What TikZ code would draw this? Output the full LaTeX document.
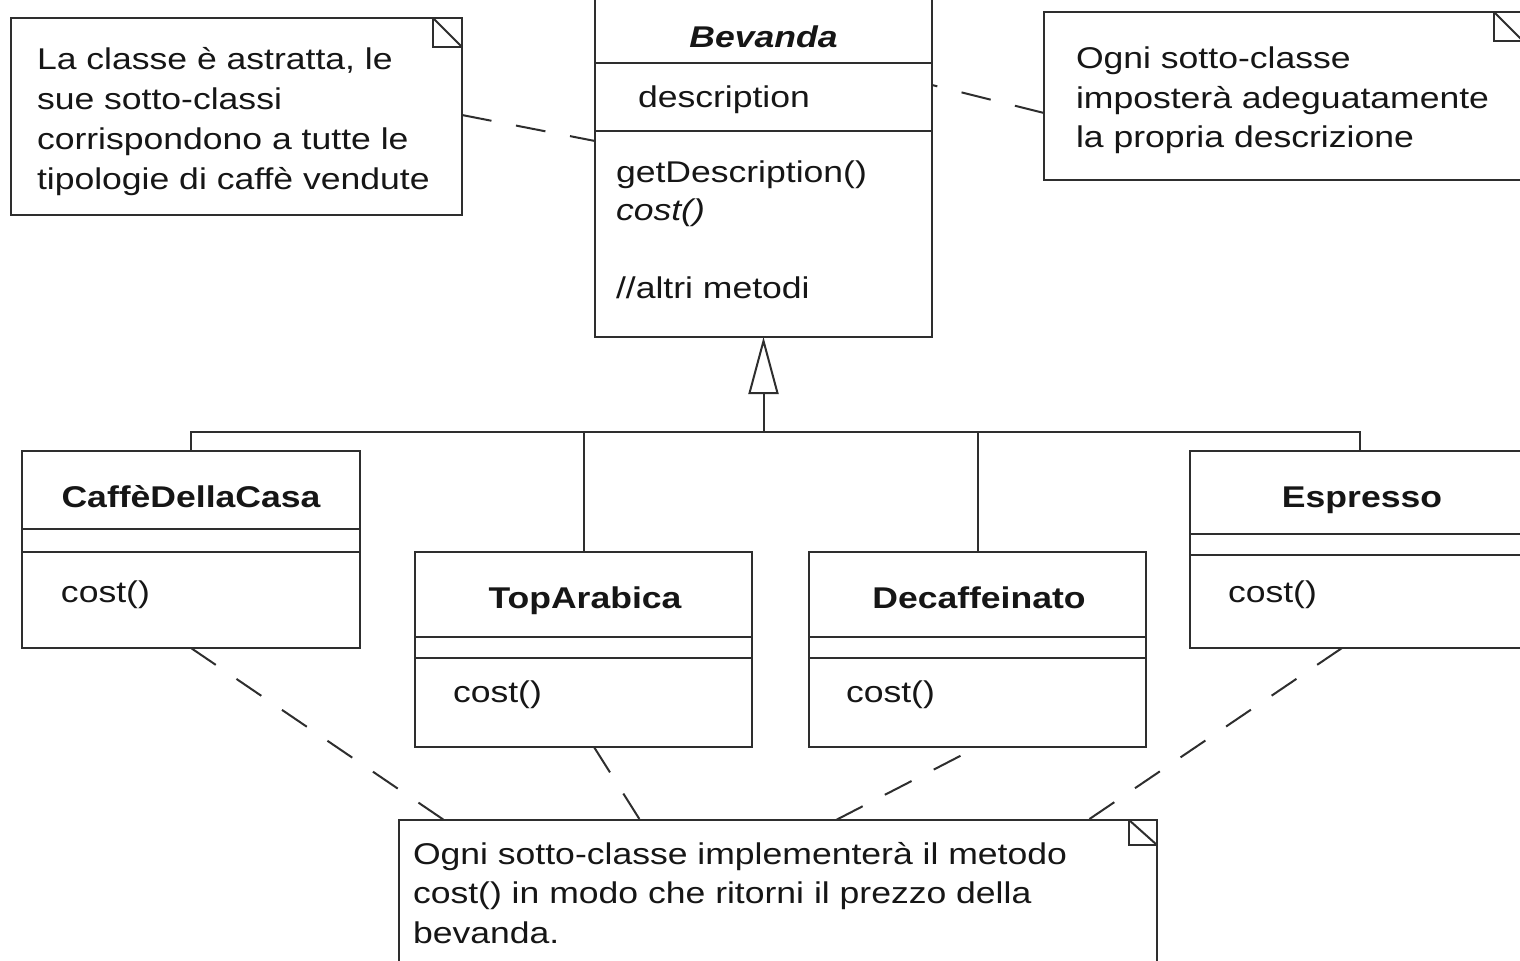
\documentclass[tikz,border=0pt]{standalone}
\usepackage{fontspec}
\setmainfont{Liberation Sans}[FakeStretch=1.185]
\usetikzlibrary{arrows.meta,fit,calc}
\definecolor{ink}{HTML}{161616}
\definecolor{rule}{HTML}{2E2E2E}
% folded corner of a UML note: #1 node, #2 width, #3 height
\newcommand\foldcorner[3]{%
  \draw[rule line] ($(#1.north east)+(-#2,0)$) |- ($(#1.north east)+(0,#3)$);
  \draw[rule line] ($(#1.north east)+(-#2,0)$) -- ($(#1.north east)+(0,#3)$);
}
\begin{document}
\begin{tikzpicture}[x=0.5pt,y=-0.5pt,
  every node/.style={inner sep=0pt, outer sep=0pt},
  box/.style={draw=rule, line width=1pt, fill=white, inner sep=0pt, outer sep=0pt},
  rule line/.style={draw=rule, line width=1pt},
  txt/.style={font=\fontsize{15}{20}\selectfont, text=ink, anchor=base west},
  cname/.style={font=\fontsize{15}{20}\selectfont\bfseries, text=ink, anchor=base},
  noteline/.style={draw=rule, line width=1pt, dash pattern=on 15pt off 12.5pt},
]
\useasboundingbox (0,0) rectangle (1520,960);
\clip (0,0) rectangle (1520,960);

% ---------- abstract class Bevanda ----------
\node[box, fit={(595,-4) (932,337)}] (bevanda) {};
\draw[rule line] (bevanda.west |- 0,63) -- (bevanda.east |- 0,63);
\draw[rule line] (bevanda.west |- 0,131) -- (bevanda.east |- 0,131);
\node[cname, font=\fontsize{15}{20}\selectfont\bfseries\itshape] (bev-name) at (763.5,47) {Bevanda};
\node[txt] (bev-attr) at (638,107) {description};
\node[txt] (bev-op1) at (616,182) {getDescription()};
\node[txt, font=\fontsize{15}{20}\selectfont\itshape] (bev-op2) at (616,220) {cost()};
\node[txt] (bev-op3) at (616,298) {//altri metodi};

% ---------- concrete subclasses ----------
\node[box, fit={(22,451) (360,648)}] (caffe) {};
\draw[rule line] (caffe.west |- 0,529) -- (caffe.east |- 0,529);
\draw[rule line] (caffe.west |- 0,552) -- (caffe.east |- 0,552);
\node[cname] (caffe-name) at (191,507) {CaffèDellaCasa};
\node[txt] (caffe-op) at (61,602) {cost()};

\node[box, fit={(415,552) (752,747)}] (toparabica) {};
\draw[rule line] (toparabica.west |- 0,637) -- (toparabica.east |- 0,637);
\draw[rule line] (toparabica.west |- 0,658) -- (toparabica.east |- 0,658);
\node[cname] (top-name) at (585,608) {TopArabica};
\node[txt] (top-op) at (453,702) {cost()};

\node[box, fit={(809,552) (1146,747)}] (decaf) {};
\draw[rule line] (decaf.west |- 0,637) -- (decaf.east |- 0,637);
\draw[rule line] (decaf.west |- 0,658) -- (decaf.east |- 0,658);
\node[cname] (decaf-name) at (979,608) {Decaffeinato};
\node[txt] (decaf-op) at (846,702) {cost()};

\node[box, fit={(1190,451) (1530,648)}] (espresso) {};
\draw[rule line] (espresso.west |- 0,534) -- (espresso.east |- 0,534);
\draw[rule line] (espresso.west |- 0,555) -- (espresso.east |- 0,555);
\node[cname] (espresso-name) at (1362,507) {Espresso};
\node[txt] (espresso-op) at (1228,602) {cost()};

% ---------- generalization tree ----------
\coordinate (junction) at (bevanda.south |- 0,432);
\draw[rule line, -{Triangle[open, length=28.5pt, width=15pt]}] (junction) -- (bevanda.south);
\draw[rule line] (caffe.north) |- (junction) -| (espresso.north);
\draw[rule line] (toparabica.north) -- (toparabica.north |- junction);
\draw[rule line] (decaf.north) -- (decaf.north |- junction);

% ---------- notes ----------
\node[box, fit={(11,18) (462,215)}] (nl) {};
\foldcorner{nl}{29}{29}
\node[txt] (nl-1) at (37,69) {La classe è astratta, le};
\node[txt] (nl-2) at (37,109) {sue sotto-classi};
\node[txt] (nl-3) at (37,149) {corrispondono a tutte le};
\node[txt] (nl-4) at (37,189) {tipologie di caffè vendute};

\node[box, fit={(1044,12) (1523,180)}] (nr) {};
\foldcorner{nr}{29}{29}
\node[txt] (nr-1) at (1076,68) {Ogni sotto-classe};
\node[txt] (nr-2) at (1076,108) {imposterà adeguatamente};
\node[txt] (nr-3) at (1076,147) {la propria descrizione};

\node[box, fit={(399,820) (1157,995)}] (nb) {};
\foldcorner{nb}{28}{25}
\node[txt] (nb-1) at (413,864) {Ogni sotto-classe implementerà il metodo};
\node[txt] (nb-2) at (413,903) {cost() in modo che ritorni il prezzo della};
\node[txt] (nb-3) at (413,943) {bevanda.};

% ---------- note anchors ----------
\draw[noteline] (nl.east |- 0,115) -- (bevanda.west |- 0,141);
\draw[noteline] (nr.west |- 0,113) -- (bevanda.east |- 0,85);
\draw[noteline] (caffe.south) -- (444,0 |- nb.north);
\draw[noteline] (594,0 |- toparabica.south) -- (640,0 |- nb.north);
\draw[noteline] (836,0 |- nb.north) -- (decaf.south);
\draw[noteline] (1342,0 |- espresso.south) -- (1088,0 |- nb.north);
\end{tikzpicture}
\end{document}
